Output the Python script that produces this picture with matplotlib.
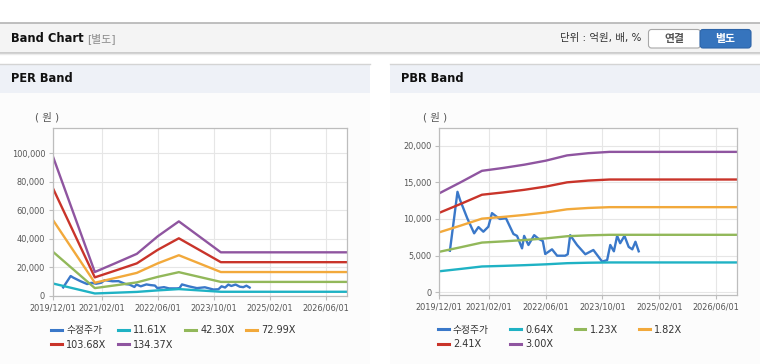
import numpy as np
import matplotlib
matplotlib.use('Agg')
import matplotlib.pyplot as plt
import matplotlib.dates as mdates
from matplotlib.patches import Rectangle, FancyBboxPatch

plt.rcParams['font.family'] = ['DejaVu Sans', 'Noto Sans CJK KR']

# --- data ---
price_dates = ['2020-03-01', '2020-05-05', '2020-05-27', '2020-07-28', '2020-09-25', '2020-11-01',
               '2020-12-13', '2021-01-25', '2021-02-25', '2021-04-07', '2021-05-04', '2021-06-25',
               '2021-08-28', '2021-09-28', '2021-11-10', '2021-11-28', '2022-01-04', '2022-02-22',
               '2022-04-01', '2022-05-07', '2022-05-28', '2022-07-25', '2022-09-07', '2022-11-15',
               '2022-12-07', '2022-12-28', '2023-02-25', '2023-05-07', '2023-07-15', '2023-09-28',
               '2023-11-10', '2023-12-07', '2024-01-07', '2024-02-04', '2024-03-01', '2024-04-07',
               '2024-05-13', '2024-06-13', '2024-07-10', '2024-08-07']
price = [5680, 13700, 12600, 10100, 8050, 8900,
         8270, 8950, 10800, 10300, 10000, 10100,
         7960, 7700, 6000, 7700, 6460, 7800,
         7300, 7000, 5230, 5870, 5000, 5000,
         5200, 7800, 6460, 5200, 5780, 4200,
         4400, 6460, 5600, 7700, 6700, 7700,
         6200, 5870, 6900, 5600]

per_dates = ['2019-12-01', '2020-12-01', '2021-06-01', '2021-12-01', '2022-06-01',
             '2022-12-01', '2023-12-01', '2026-12-01']
per_labels = ['11.61X', '42.30X', '72.99X', '103.68X', '134.37X']
per_1161 = [8487, 1428, 1974, 2531, 3599, 4505, 2624, 2624]
per_4230 = [30921, 5203, 7191, 9221, 13113, 16412, 9560, 9560]
per_7299 = [53356, 8978, 12408, 15912, 22627, 28320, 16496, 16496]
per_10368 = [75790, 12753, 17626, 22602, 32141, 40228, 23432, 23432]
per_13437 = [98224, 16528, 22843, 29293, 41655, 52136, 30368, 30368]

pbr_dates = ['2019-12-01', '2020-06-01', '2020-12-01', '2021-06-01', '2021-12-01',
             '2022-06-01', '2022-12-01', '2023-06-01', '2023-12-01', '2026-12-01']
pbr_labels = ['0.64X', '1.23X', '1.82X', '2.41X', '3.00X']
pbr_064 = [2880, 3200, 3533, 3616, 3712, 3827, 3981, 4045, 4083, 4083]
pbr_123 = [5535, 6150, 6790, 6950, 7134, 7355, 7651, 7774, 7847, 7847]
pbr_182 = [8190, 9100, 10046, 10283, 10556, 10884, 11320, 11502, 11612, 11612]
pbr_241 = [10845, 12050, 13303, 13617, 13978, 14412, 14990, 15231, 15376, 15376]
pbr_300 = [13500, 15000, 16560, 16950, 17400, 17940, 18660, 18960, 19140, 19140]

x_ticks = ['2019-12-01', '2021-02-01', '2022-06-01', '2023-10-01', '2025-02-01', '2026-06-01']

price_color = '#3a78c9'
band_colors = ['#1fb2c4', '#92b85a', '#f2a93b', '#c9342a', '#8f55a0']

W, H = 760, 364
fig = plt.figure(figsize=(W / 100, H / 100), dpi=100)

# background page drawn in pixel coords
bg = fig.add_axes([0, 0, 1, 1])
bg.set_xlim(0, W)
bg.set_ylim(H, 0)
bg.axis('off')

bg.add_patch(Rectangle((0, 22.5), W, 30, facecolor='#f4f4f4', edgecolor='none'))
bg.plot([0, W], [22.5, 22.5], color='#b4b4b4', lw=1.2)
bg.plot([0, W], [52.7, 52.7], color='#c4c4c4', lw=1.2)
bg.plot([0, W], [54, 54], color='#ececec', lw=1)
bg.text(11, 38.5, 'Band Chart', fontsize=8.3, fontweight='bold', color='#111111', va='center')
bg.text(87, 38.5, '[별도]', fontsize=7.8, color='#8a8a8a', va='center')
bg.text(641, 38.5, '단위 : 억원, 배, %', fontsize=7.5, color='#333333', va='center', ha='right')
bg.add_patch(FancyBboxPatch((648.5, 29.5), 52, 18.5, boxstyle='round,pad=0,rounding_size=3',
                            facecolor='white', edgecolor='#a8a8a8', lw=0.8))
bg.add_patch(FancyBboxPatch((700, 29.5), 51, 18.5, boxstyle='round,pad=0,rounding_size=3',
                            facecolor='#3674bd', edgecolor='#2d64a8', lw=0.8))
bg.text(674.5, 39, '연결', fontsize=7.8, fontweight='bold', color='#555555', ha='center', va='center')
bg.text(725.5, 39, '별도', fontsize=7.8, fontweight='bold', color='white', ha='center', va='center')

for x0, x1, title in [(0, 370, 'PER Band'), (390, 760, 'PBR Band')]:
    bg.add_patch(Rectangle((x0, 64), x1 - x0, H - 64, facecolor='#fcfcfc', edgecolor='none'))
    bg.add_patch(Rectangle((x0, 64), x1 - x0, 29, facecolor='#eef1f7', edgecolor='none'))
    bg.plot([x0, x1], [64, 64], color='#d4d4d4', lw=1)
    bg.text(x0 + 11, 79, title, fontsize=8.3, fontweight='bold', color='#111111', va='center')

bg.text(35, 117, '( 원 )', fontsize=7.5, color='#555555', va='center')
bg.text(423, 117, '( 원 )', fontsize=7.5, color='#555555', va='center')


def draw_panel(rect, band_dates, bands, labels, ylim, yticks, colsp):
    ax = fig.add_axes(rect)
    d = np.array(band_dates, dtype='datetime64[D]')
    h_price, = ax.plot(np.array(price_dates, dtype='datetime64[D]'), price,
                       color=price_color, lw=1.7, solid_joinstyle='round')
    handles = []
    for vals, c in zip(bands, band_colors):
        h, = ax.plot(d, vals, color=c, lw=1.7, solid_joinstyle='round')
        handles.append(h)
    ax.set_xlim(np.datetime64('2019-12-01'), np.datetime64('2026-12-01'))
    ax.set_ylim(*ylim)
    ax.set_yticks(yticks)
    ax.set_yticklabels([f'{v:,}' for v in yticks])
    ax.set_xticks(np.array(x_ticks, dtype='datetime64[D]'))
    ax.xaxis.set_major_formatter(mdates.DateFormatter('%Y/%m/%d'))
    ax.grid(True, color='#e6e6e6', lw=0.8)
    ax.set_axisbelow(True)
    for s in ax.spines.values():
        s.set_color('#bdbdbd')
        s.set_linewidth(0.9)
    ax.tick_params(labelsize=5.9, colors='#bdbdbd', labelcolor='#555555', length=3, width=0.8, pad=2.5)
    ax.set_facecolor('white')
    # row-major legend order for 4 columns
    all_h = [h_price] + handles
    all_l = ['수정주가'] + labels
    order = [0, 4, 1, 5, 2, 3]
    leg = ax.legend([all_h[i] for i in order], [all_l[i] for i in order], ncol=4,
                    loc='upper left', bbox_to_anchor=(-0.005, -0.178), frameon=False,
                    fontsize=7, handlelength=1.1, handletextpad=0.45, columnspacing=colsp,
                    labelspacing=0.45, borderpad=0, borderaxespad=0)
    for t in leg.get_texts():
        t.set_color('#333333')
    for l in leg.get_lines():
        l.set_linewidth(2.2)
    return ax


per_rect = [52.7 / W, 1 - 295.5 / H, (347 - 52.7) / W, (295.5 - 128.3) / H]
pbr_rect = [439.3 / W, 1 - 295 / H, (737.3 - 439.3) / W, (295 - 128.3) / H]

draw_panel(per_rect, per_dates, [per_1161, per_4230, per_7299, per_10368, per_13437],
           per_labels, (0, 117600), [0, 20000, 40000, 60000, 80000, 100000], 1.2)
draw_panel(pbr_rect, pbr_dates, [pbr_064, pbr_123, pbr_182, pbr_241, pbr_300],
           pbr_labels, (-350, 22350), [0, 5000, 10000, 15000, 20000], 2.2)

fig.savefig('out.png', dpi=100)
